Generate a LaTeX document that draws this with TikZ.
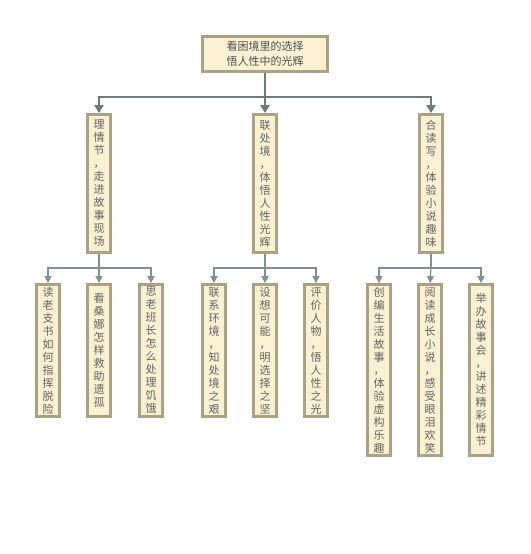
\documentclass[tikz,border=0pt]{standalone}
\usepackage{fontspec}
\setmainfont{Noto Sans CJK SC}
\usetikzlibrary{arrows.meta}
\definecolor{boxfill}{HTML}{FAF0D2}
\definecolor{boxline}{HTML}{ABA286}
\definecolor{txt}{HTML}{626262}
\definecolor{roottxt}{HTML}{505050}
\definecolor{lineA}{HTML}{6E7C7C}
\definecolor{lineB}{HTML}{82908F}
\begin{document}
\begin{tikzpicture}[x=1pt,y=-1pt,
  box/.style={draw=boxline,line width=2.8pt,fill=boxfill,text=txt,inner sep=0pt,
    align=center,font=\fontsize{11}{13}\selectfont},
  vbox/.style={box,minimum width=23pt},
  main/.style={draw=lineA,line width=2.6pt,-{Triangle[width=9pt,length=8pt]}},
  sub/.style={draw=lineB,line width=1.2pt,-{Triangle[width=7pt,length=7pt]}},
  plain/.style={draw=lineA,line width=2.6pt},
  plainsub/.style={draw=lineB,line width=1.2pt}]
\useasboundingbox (0,0) rectangle (530,554);
\fill[white] (0,0) rectangle (530,554);

\node[box,minimum width=125pt,minimum height=35pt,text=roottxt,font=\fontsize{11}{15}\selectfont] (root) at (265,54) {看困境里的选择\\悟人性中的光辉};

\node[vbox,minimum height=138pt] (a) at (99,183.5) {理\\情\\节\\，\\走\\进\\故\\事\\现\\场};
\node[vbox,minimum height=138pt] (b) at (265,183.5) {联\\处\\境\\，\\体\\悟\\人\\性\\光\\辉};
\node[vbox,minimum height=138pt] (c) at (431,183.5) {合\\读\\写\\，\\体\\验\\小\\说\\趣\\味};

\node[vbox,minimum height=132pt] (a1) at (48,350.5) {读\\老\\支\\书\\如\\何\\指\\挥\\脱\\险};
\node[vbox,minimum height=132pt] (a2) at (99,350.5) {看\\桑\\娜\\怎\\样\\救\\助\\遗\\孤};
\node[vbox,minimum height=132pt] (a3) at (151,350.5) {思\\老\\班\\长\\怎\\么\\处\\理\\饥\\饿};

\node[vbox,minimum height=132pt] (b1) at (214,350.5) {联\\系\\环\\境\\，\\知\\处\\境\\之\\艰};
\node[vbox,minimum height=132pt] (b2) at (265,350.5) {设\\想\\可\\能\\，\\明\\选\\择\\之\\坚};
\node[vbox,minimum height=132pt] (b3) at (316,350.5) {评\\价\\人\\物\\，\\悟\\人\\性\\之\\光};

\node[vbox,minimum height=171pt] (c1) at (379,370) {创\\编\\生\\活\\故\\事\\，\\体\\验\\虚\\构\\乐\\趣};
\node[vbox,minimum height=171pt] (c2) at (430,370) {阅\\读\\成\\长\\小\\说\\，\\感\\受\\眼\\泪\\欢\\笑};
\node[vbox,minimum height=171pt] (c3) at (481,370) {举\\办\\故\\事\\会\\，\\讲\\述\\精\\彩\\情\\节};

\coordinate (j0) at (265,97);
\draw[plain] (root.south) -- (j0);
\draw[main] (j0) -| (a.north);
\draw[main] (j0) -- (b.north);
\draw[main] (j0) -| (c.north);

\coordinate (ja) at (99,268);
\coordinate (jb) at (265,268);
\coordinate (jc) at (431,268);
\draw[plainsub] (a.south) -- (ja);
\draw[plainsub] (b.south) -- (jb);
\draw[plainsub] (c.south) -- (jc);
\draw[sub] (ja) -| (a1.north);
\draw[sub] (ja) -- (a2.north);
\draw[sub] (ja) -| (a3.north);
\draw[sub] (jb) -| (b1.north);
\draw[sub] (jb) -- (b2.north);
\draw[sub] (jb) -| (b3.north);
\draw[sub] (jc) -| (c1.north);
\draw[sub] (jc) -- (c2.north);
\draw[sub] (jc) -| (c3.north);
\end{tikzpicture}
\end{document}
